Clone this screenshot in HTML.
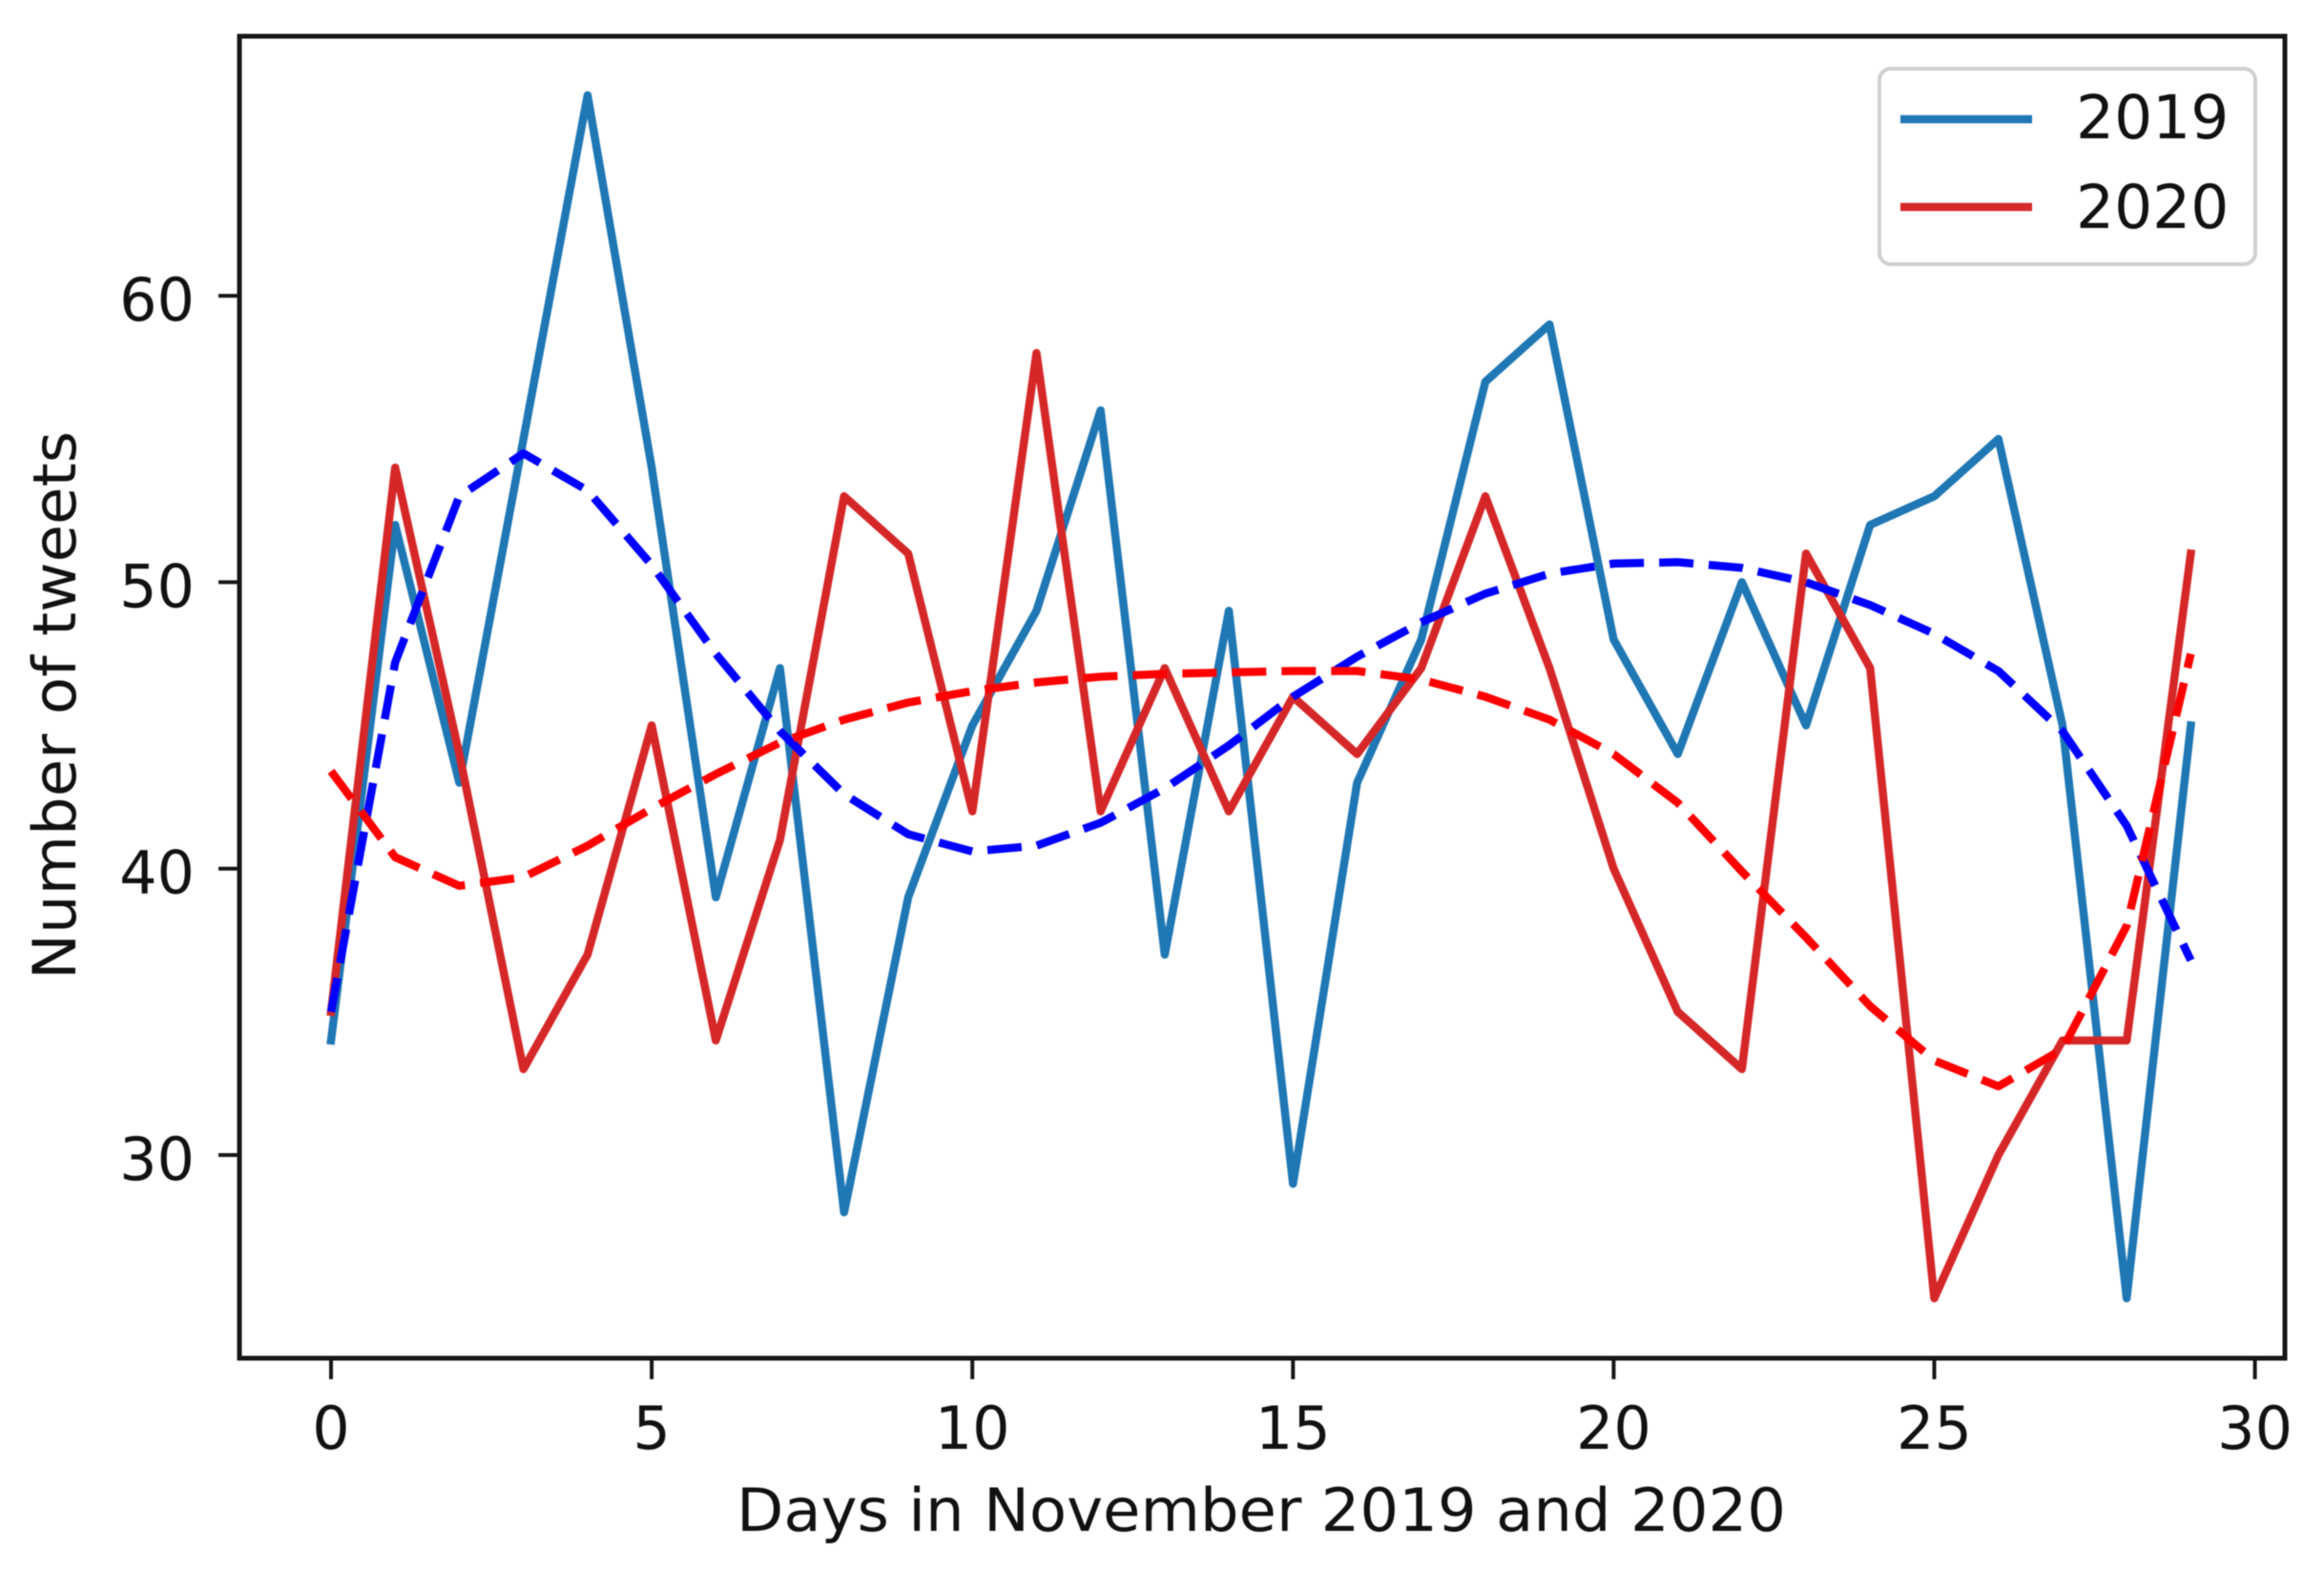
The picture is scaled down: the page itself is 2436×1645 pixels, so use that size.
<!DOCTYPE html>
<html lang="en">
<head>
<meta charset="utf-8">
<title>Number of tweets in November 2019 and 2020</title>
<style>
html,body{margin:0;padding:0;background:#fff;width:2436px;height:1645px;overflow:hidden}
svg{display:block;filter:blur(0.6px)}
text{font-family:"DejaVu Sans","Liberation Sans",sans-serif;font-size:62px;fill:#111}
</style>
</head>
<body>
<svg id="chart" xmlns="http://www.w3.org/2000/svg" width="2436" height="1645" viewBox="0 0 2436 1645">
  <rect x="0" y="0" width="2436" height="1645" fill="#fff"/>
  <g id="ticks"></g>
  <g id="series"></g>
  <rect x="251" y="38" width="2144" height="1386" fill="none" stroke="#161616" stroke-width="5"/>
  <text x="772" y="1605" textLength="1100" lengthAdjust="spacingAndGlyphs">Days in November 2019 and 2020</text>
  <text transform="translate(79,1027) rotate(-90)" textLength="575" lengthAdjust="spacingAndGlyphs">Number of tweets</text>
  <g>
    <rect x="1970" y="72" width="394" height="205" rx="12" ry="12" fill="#fff" fill-opacity="0.8" stroke="#d0d0d0" stroke-width="4"/>
    <line x1="1992" y1="125" x2="2130" y2="125" stroke="#1f77b4" stroke-width="8.5"/>
    <text x="2176" y="145" style="font-size:63px">2019</text>
    <line x1="1992" y1="217" x2="2130" y2="217" stroke="#d62728" stroke-width="8.5"/>
    <text x="2176" y="239" style="font-size:63px">2020</text>
  </g>
</svg>
<script>
const days = [0,1,2,3,4,5,6,7,8,9,10,11,12,13,14,15,16,17,18,19,20,21,22,23,24,25,26,27,28,29];
const tweets2019 = [34,52,43,55,67,54,39,47,28,39,45,49,56,37,49,29,43,48,57,59,48,44,50,45,52,53,55,45,25,45];
const tweets2020 = [35,54,44,33,37,45,34,41,53,51,42,58,42,47,42,46,44,47,53,47,40,35,33,51,47,25,30,34,34,51];
const trend2019 = [35,47.2,53,54.5,53.2,50.6,47.5,44.8,42.6,41.2,40.6,40.8,41.6,42.8,44.3,46,47.4,48.6,49.6,50.3,50.65,50.7,50.5,50,49.2,48.2,46.9,44.8,41.5,36.8];
const trend2020 = [43.4,40.4,39.4,39.7,40.8,42.1,43.3,44.4,45.2,45.8,46.2,46.5,46.7,46.8,46.85,46.9,46.9,46.6,46,45.2,44,42.3,39.9,37.6,35.2,33.3,32.4,33.7,38,47.5];
const xTickValues = [0,5,10,15,20,25,30];
const yTickValues = [30,40,50,60];

const SVG_NS = 'http://www.w3.org/2000/svg';
function xScale(d){ return 347 + d * 67.22; }
function yScale(v){ return 1211 - (v - 30) * 30.03; }

const ticksGroup = document.getElementById('ticks');
const seriesGroup = document.getElementById('series');

xTickValues.forEach(function(t){
  const mark = document.createElementNS(SVG_NS, 'line');
  
  
  mark.setAttribute('x1', xScale(t));
  mark.setAttribute('x2', xScale(t));
  mark.setAttribute('y1', 1424);
  mark.setAttribute('y2', 1446);
  mark.setAttribute('stroke', '#161616');
  mark.setAttribute('stroke-width', 4);
  ticksGroup.appendChild(mark);
  const label = document.createElementNS(SVG_NS, 'text');
  
  
  label.setAttribute('x', xScale(t));
  label.setAttribute('y', 1519);
  label.setAttribute('text-anchor', 'middle');
  label.textContent = String(t);
  ticksGroup.appendChild(label);
});

yTickValues.forEach(function(t){
  const mark = document.createElementNS(SVG_NS, 'line');
  
  
  mark.setAttribute('x1', 229);
  mark.setAttribute('x2', 251);
  mark.setAttribute('y1', yScale(t));
  mark.setAttribute('y2', yScale(t));
  mark.setAttribute('stroke', '#161616');
  mark.setAttribute('stroke-width', 4);
  ticksGroup.appendChild(mark);
  const label = document.createElementNS(SVG_NS, 'text');
  
  
  label.setAttribute('x', 204);
  label.setAttribute('y', yScale(t) + 26);
  label.setAttribute('text-anchor', 'end');
  label.textContent = String(t);
  ticksGroup.appendChild(label);
});

function pointsFor(values){
  return values.map(function(v, i){
    return xScale(days[i]).toFixed(2) + ',' + yScale(v).toFixed(2);
  }).join(' ');
}

function styleLine(el, color, width, dash){
  el.setAttribute('fill', 'none');
  el.setAttribute('stroke', color);
  el.setAttribute('stroke-width', width);
  el.setAttribute('stroke-linejoin', 'round');
  if (dash) {
    el.setAttribute('stroke-dasharray', dash);
  } else {
    el.setAttribute('stroke-linecap', 'square');
  }
}

const line2019 = document.createElementNS(SVG_NS, 'polyline');


line2019.setAttribute('points', pointsFor(tweets2019));
styleLine(line2019, '#1f77b4', 8.5);
seriesGroup.appendChild(line2019);

const line2020 = document.createElementNS(SVG_NS, 'polyline');


line2020.setAttribute('points', pointsFor(tweets2020));
styleLine(line2020, '#d62728', 8.5);
seriesGroup.appendChild(line2020);

const lineTrend2019 = document.createElementNS(SVG_NS, 'polyline');


lineTrend2019.setAttribute('points', pointsFor(trend2019));
styleLine(lineTrend2019, '#0000ff', 8.5, '36 16');
seriesGroup.appendChild(lineTrend2019);

const lineTrend2020 = document.createElementNS(SVG_NS, 'polyline');


lineTrend2020.setAttribute('points', pointsFor(trend2020));
styleLine(lineTrend2020, '#ff0000', 8.5, '36 16');
seriesGroup.appendChild(lineTrend2020);
</script>
</body>
</html>
